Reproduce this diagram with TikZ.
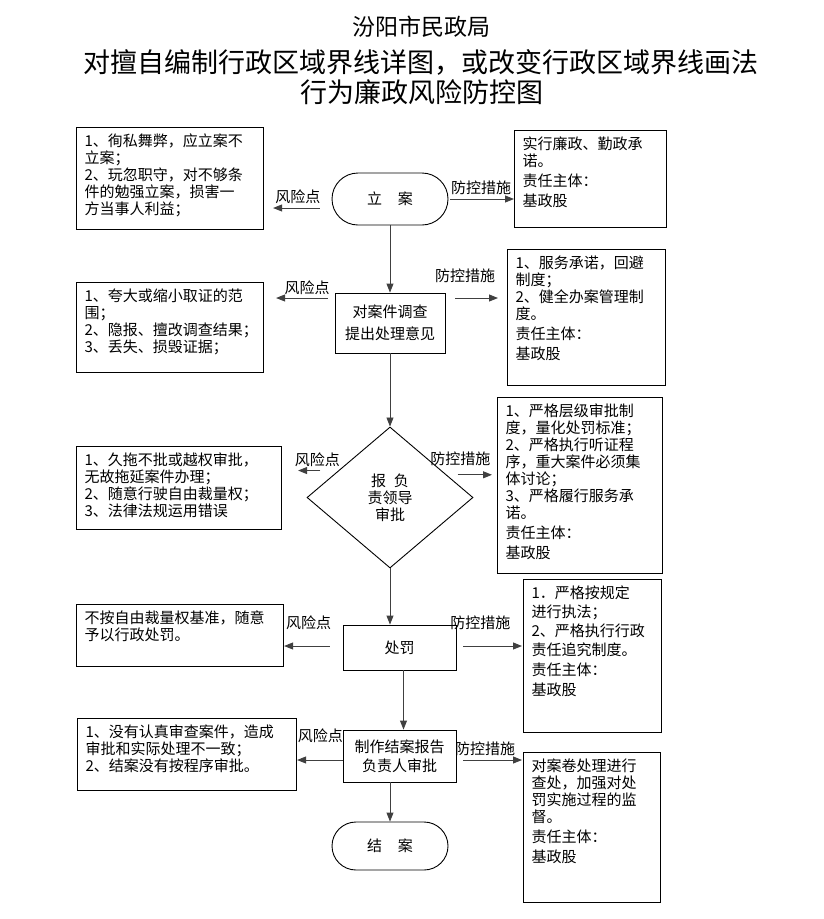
\documentclass[tikz,border=0pt]{standalone}
\usepackage{fontspec}
\setmainfont{Noto Sans CJK SC}
\usetikzlibrary{arrows.meta,shapes.geometric,calc}

\newcommand{\boxtxt}[3]{\parbox[t][\dimexpr#2pt-12pt\relax][t]{\dimexpr#1pt-16pt\relax}{#3}}

\begin{document}
\begin{tikzpicture}[x=1pt, y=-1pt,
    every node/.style={font=\fontsize{15}{17}\selectfont},
    fxbox/.style={draw, line width=1.1pt, anchor=north west, inner xsep=8pt, inner ysep=6pt},
    fkbox/.style={fxbox},
    endbox/.style={draw, line width=0.9pt, rounded corners=24pt, minimum width=116pt, minimum height=48pt},
    stepbox/.style={draw, line width=0.9pt, align=center, minimum width=113pt},
    judge/.style={draw, line width=0.9pt, diamond, align=center, inner sep=0pt, minimum width=166pt, minimum height=141pt},
    arr/.style={-{Triangle[length=9pt,width=7pt]}, line width=0.9pt, color=black!75},
    lbl/.style={inner sep=0pt, text=black}
  ]
  \useasboundingbox (0,0) rectangle (823,919);

  % Title
  \node[font=\fontsize{23}{26}\selectfont] (tt1) at (421,27) {汾阳市民政局};
  \node[font=\fontsize{27}{30}\selectfont] (tt2) at (421,62) {对擅自编制行政区域界线详图，或改变行政区域界线画法};
  \node[font=\fontsize{27}{30}\selectfont] (tt3) at (422,92) {行为廉政风险防控图};

  % Main flow
  \node[endbox, rounded corners=26pt, minimum height=52pt] (lian) at (390,199) {立\hspace{16pt}案};
  \node[stepbox, minimum width=110pt, minimum height=60pt] (diao) at (390,323) {对案件调查\\[5pt]提出处理意见};
  \node[judge] (shen) at (390,497.5) {报\hspace{8pt}负\\责领导\\审批};
  \node[stepbox, minimum height=45pt] (chufa) at (399.5,647.5) {处罚};
  \node[stepbox, minimum height=52pt] (zhizuo) at (399.5,756) {制作结案报告\\[2pt]负责人审批};
  \node[endbox] (jiean) at (390,846) {结\hspace{16pt}案};

  % Risk points (left)
  \node[fxbox] (fx1) at (76,127) {\boxtxt{187}{102}{1、徇私舞弊，应立案不\\立案；\\2、玩忽职守，对不够条\\件的勉强立案，损害一\\方当事人利益；}};
  \node[fxbox] (fx2) at (76,282) {\boxtxt{187}{90}{1、夸大或缩小取证的范\\围；\\2、隐报、擅改调查结果；\\3、丢失、损毁证据；}};
  \node[fxbox] (fx3) at (76,446) {\boxtxt{205}{83}{1、久拖不批或越权审批，\\无故拖延案件办理；\\2、随意行驶自由裁量权；\\3、法律法规运用错误}};
  \node[fxbox] (fx4) at (76,604) {\boxtxt{207}{62}{不按自由裁量权基准，随意\\予以行政处罚。}};
  \node[fxbox] (fx5) at (77,718) {\boxtxt{219}{72}{1、没有认真审查案件，造成\\审批和实际处理不一致；\\2、结案没有按程序审批。}};

  % Control measures (right)
  \node[fkbox] (fk1) at (514,130) {\boxtxt{152}{97}{实行廉政、勤政承\\诺。\\[3pt]责任主体：\\[3pt]基政股}};
  \node[fkbox] (fk2) at (507,249) {\boxtxt{158}{136}{1、服务承诺，回避\\制度；\\2、健全办案管理制\\度。\\[3pt]责任主体：\\[3pt]基政股}};
  \node[fkbox] (fk3) at (497,397) {\boxtxt{165}{176}{1、严格层级审批制\\度，量化处罚标准；\\2、严格执行听证程\\序，重大案件必须集\\体讨论；\\3、严格履行服务承\\诺。\\[3pt]责任主体：\\[3pt]基政股}};
  \node[fkbox] (fk4) at (523,579) {\boxtxt{138}{153}{1．严格按规定\\[2pt]进行执法；\\[2pt]2、严格执行行政\\[2pt]责任追究制度。\\[3pt]责任主体：\\[3pt]基政股}};
  \node[fkbox] (fk5) at (523,752) {\boxtxt{137}{150}{对案卷处理进行\\查处，加强对处\\罚实施过程的监\\督。\\[3pt]责任主体：\\[3pt]基政股}};

  % Flow arrows
  \draw[arr] (lian) -- (diao);
  \draw[arr] (diao) -- (shen);
  \draw[arr] (shen.south) -- (shen.south |- chufa.north);
  \draw[arr] ([xshift=4pt]chufa.south) -- ([xshift=4pt]chufa.south |- zhizuo.north);
  \draw[arr] (jiean.north |- zhizuo.south) -- (jiean.north);

  % Side arrows
  \draw[arr, shorten <=12pt, shorten >=9pt] ([yshift=-9pt]lian.west) -- ([yshift=-9pt]lian.west -| fx1.east) node[lbl, midway, above=4pt] {风险点};
  \draw[arr, shorten <=2pt] (lian.east) -- (lian.east -| fk1.west) node[lbl, midway, above=4pt] {防控措施};

  \draw[arr, shorten <=7pt, shorten >=12pt] ([yshift=25pt]diao.west) -- ([yshift=25pt]diao.west -| fx2.east) node[lbl, pos=0.39, above=3pt] {风险点};
  \draw[arr, shorten <=10pt, shorten >=9pt] ([yshift=25pt]diao.east) -- ([yshift=25pt]diao.east -| fk2.west) node[lbl, pos=0.32, above=15pt] {防控措施};

  \coordinate (sw) at ($(shen.west)!0.38!(shen.north)$);
  \coordinate (se) at ($(shen.east)!0.32!(shen.north)$);
  \draw[arr, shorten <=18pt, shorten >=16pt] (sw) -- (sw -| fx3.east) node[lbl, pos=0.37, above=3pt] {风险点};
  \draw[arr, shorten <=11pt, shorten >=5pt] (se) -- (se -| fk3.west) node[lbl, pos=0.27, above=9pt] {防控措施};

  \draw[arr, shorten <=13pt] ([yshift=1.5pt]chufa.west) -- ([yshift=1.5pt]chufa.west -| fx4.east) node[lbl, pos=0.58, above=16pt] {风险点};
  \draw[arr, shorten <=7pt, shorten >=1pt] ([yshift=1.5pt]chufa.east) -- ([yshift=1.5pt]chufa.east -| fk4.west) node[lbl, pos=0.36, above=16pt] {防控措施};

  \draw[arr] ([yshift=-4pt]zhizuo.west) -- ([yshift=-4pt]zhizuo.west -| fx5.east) node[lbl, pos=0.49, above=17pt] {风险点};
  \draw[arr, shorten <=7pt, shorten >=1pt] ([yshift=-4pt]zhizuo.east) -- ([yshift=-4pt]zhizuo.east -| fk5.west) node[lbl, pos=0.43, above=4pt] {防控措施};
\end{tikzpicture}
\end{document}
